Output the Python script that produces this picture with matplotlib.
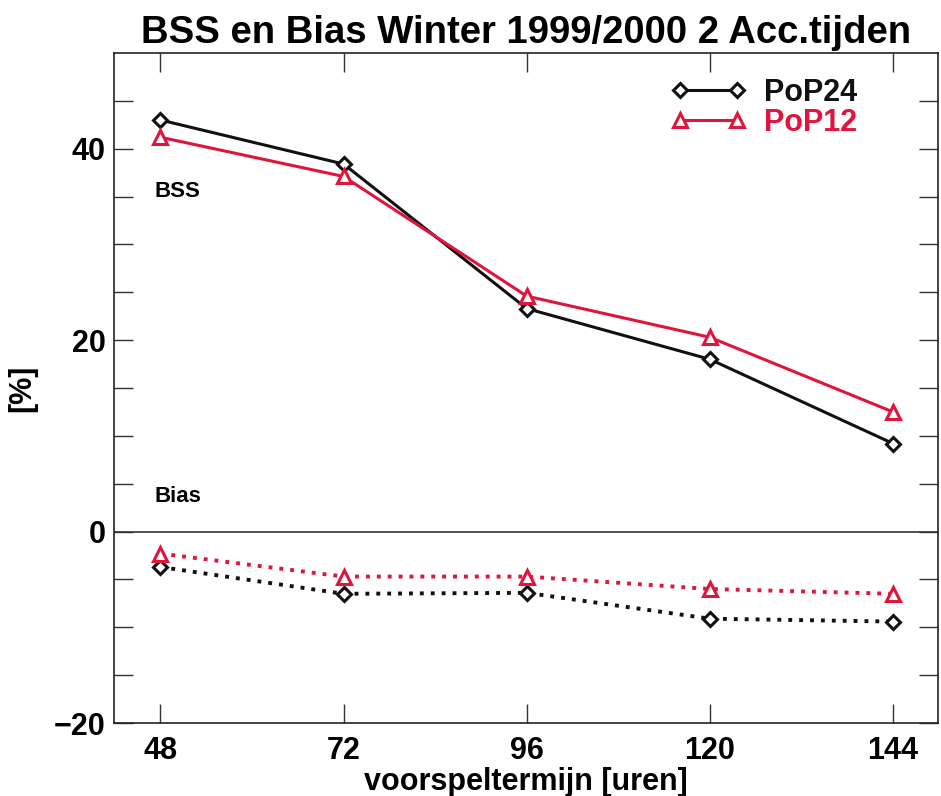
import matplotlib
matplotlib.use("Agg")
import matplotlib.pyplot as plt

plt.rcParams['font.family'] = ['Liberation Sans', 'DejaVu Sans']

lead_times = [48, 72, 96, 120, 144]
bss_pop24 = [43.0, 38.4, 23.3, 18.0, 9.2]
bss_pop12 = [41.2, 37.1, 24.6, 20.3, 12.5]
bias_pop24 = [-3.7, -6.5, -6.4, -9.1, -9.4]
bias_pop12 = [-2.3, -4.7, -4.7, -6.0, -6.5]
ytick_labels = [-20, 0, 20, 40]
series_names = ["PoP24", "PoP12"]

black = "#111111"
red = "#e0143c"

fig = plt.figure(figsize=(9.41, 7.96), dpi=100)
ax = fig.add_axes([0.1211, 0.0917, 0.8757, 0.8417])

ms = 8
l24, = ax.plot(lead_times, bss_pop24, color=black, lw=2.2, marker='D', ms=ms*0.9,
               mfc='white', mec=black, mew=2.2, label=series_names[0])
l12, = ax.plot(lead_times, bss_pop12, color=red, lw=2.2, marker='^', ms=ms*1.2,
               mfc='white', mec=red, mew=2.2, label=series_names[1])
ax.plot(lead_times, bias_pop24, color=black, lw=2.8, ls=(0, (1, 1.8)), marker='D', ms=ms*0.9,
        mfc='white', mec=black, mew=2.2)
ax.plot(lead_times, bias_pop12, color=red, lw=2.8, ls=(0, (1, 1.8)), marker='^', ms=ms*1.2,
        mfc='white', mec=red, mew=2.2)

ax.axhline(0, color='#333333', lw=1.2, zorder=0)

ax.set_xlim(41.9, 149.9)
ax.set_ylim(-19.8, 50)
ax.set_xticks(lead_times)
ax.set_xticklabels([str(v) for v in lead_times], fontsize=22, fontweight='bold')
ax.set_yticks(ytick_labels)
ax.set_yticklabels(['\u221220', '0', '20', '40'], fontsize=22, fontweight='bold')
ax.set_yticks(range(-15, 50, 5), minor=True)
ax.tick_params(axis='both', which='both', direction='in', top=True, right=True,
               width=1.0, color='#333333')
ax.tick_params(axis='both', which='major', length=14)
ax.tick_params(axis='x', which='major', pad=9)
ax.tick_params(axis='y', which='major', pad=6)
ax.tick_params(axis='y', which='minor', length=14)
for s in ax.spines.values():
    s.set_linewidth(1.2)
    s.set_color('#222222')

ax.set_title("BSS en Bias Winter 1999/2000 2 Acc.tijden", fontsize=27.5,
             fontweight='bold', pad=7)
ax.set_xlabel("voorspeltermijn [uren]", fontsize=22, fontweight='bold', labelpad=1)
ax.set_ylabel("[%]", fontsize=22, fontweight='bold', labelpad=12)

ax.text(47.2, 35.5, "BSS", fontsize=16, fontweight='bold', ha='left', va='center')
ax.text(47.2, 3.7, "Bias", fontsize=16, fontweight='bold', ha='left', va='center')

leg = fig.legend(handles=[l24, l12], loc='upper left',
                 bbox_to_anchor=(671 / 941, 1 - 78 / 796),
                 frameon=False, fontsize=22, handlelength=2.45, handletextpad=0.6,
                 labelspacing=0.0, numpoints=2, borderpad=0, borderaxespad=0)
for t, c in zip(leg.get_texts(), [black, red]):
    t.set_color(c)
    t.set_fontweight('bold')

fig.savefig("out.png", dpi=100)
